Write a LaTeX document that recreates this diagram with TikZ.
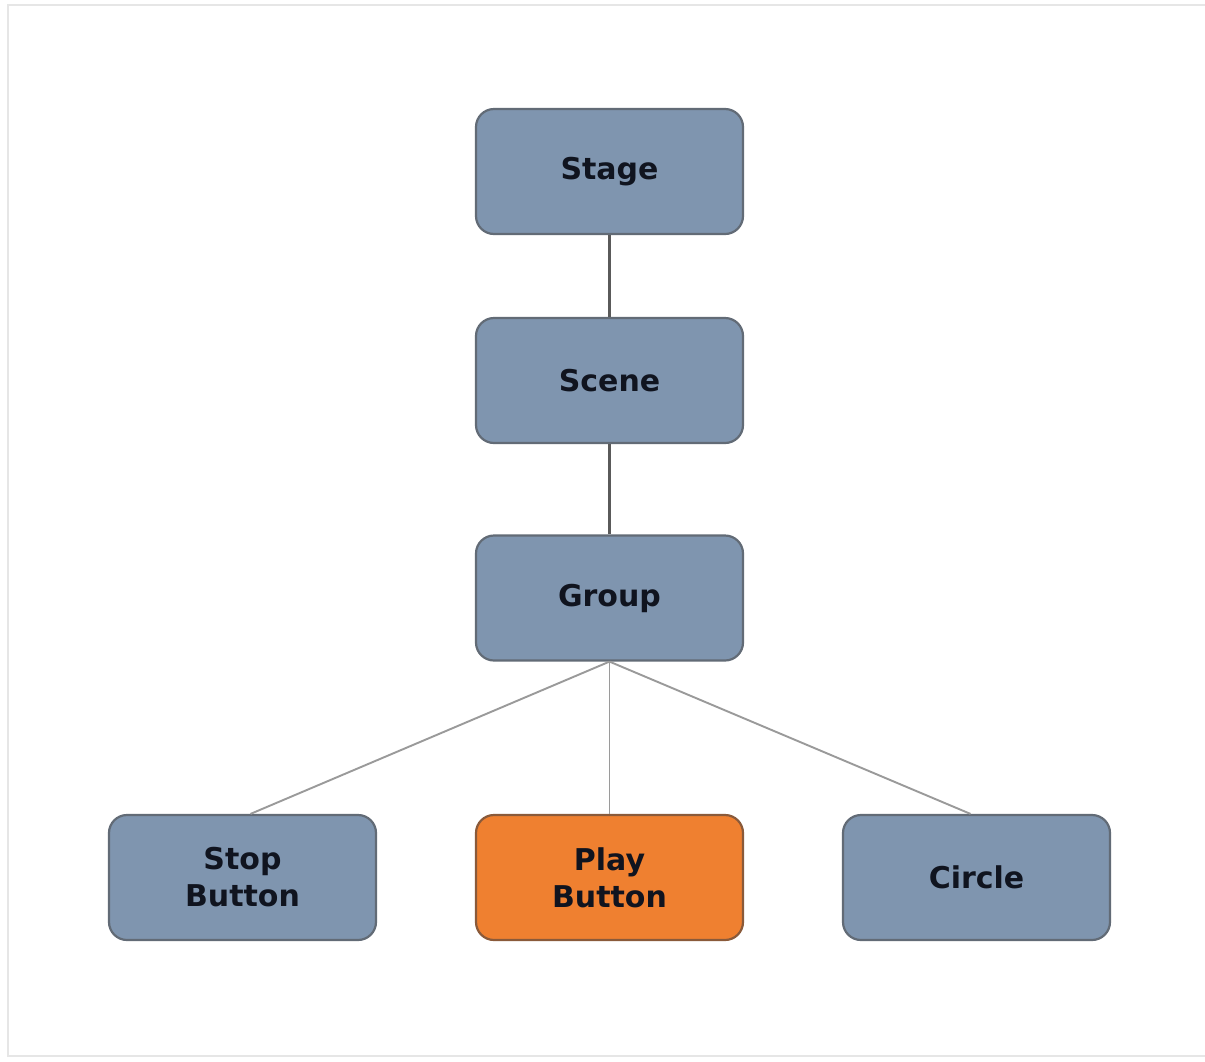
\documentclass[tikz,border=0pt]{standalone}
\usepackage{fontspec}
\setmainfont{DejaVu Sans}
\definecolor{boxfill}{HTML}{7F95AF}
\definecolor{boxline}{HTML}{626B76}
\definecolor{playfill}{HTML}{EF8030}
\definecolor{playline}{HTML}{8A5A3A}
\definecolor{txt}{HTML}{10141F}
\definecolor{frame}{HTML}{E6E6E6}
\definecolor{thick}{HTML}{5A5A5A}
\definecolor{thin}{HTML}{9A9A9A}
\tikzset{
  boxnode/.style={draw=boxline, fill=boxfill, line width=2.2pt, rounded corners=18pt,
    minimum width=267pt, minimum height=125pt, inner sep=0pt, align=center,
    text=txt, font=\fontsize{30}{37}\selectfont\bfseries},
  playnode/.style={boxnode, fill=playfill, draw=playline},
  thickline/.style={draw=thick, line width=3.8pt},
  thinline/.style={draw=thin, line width=1.9pt}
}
\begin{document}
\begin{tikzpicture}[x=1pt,y=-1pt]
\useasboundingbox (0,0) rectangle (1205,1061);
\fill[white] (0,0) rectangle (1205,1061);
\draw[frame, line width=2.5pt] (1210,5) -- (8,5) -- (8,1056) -- (1210,1056);
\node[boxnode] (stage) at (609.5,171.5) {Stage};
\node[boxnode] (scene) at (609.5,380.5) {Scene};
\node[boxnode] (group) at (609.5,598) {Group};
\node[boxnode] (stop) at (242.5,877.5) {Stop\\Button};
\node[playnode] (play) at (609.5,877.5) {Play\\Button};
\node[boxnode] (circle) at (976.5,877.5) {Circle};
\draw[thickline] (stage.south) -- (scene.north);
\draw[thickline] (scene.south) -- (group.north);
\draw[thinline] (group.south) -- ([xshift=8pt]stop.north);
\draw[thinline] (group.south) -- (play.north);
\draw[thinline] (group.south) -- ([xshift=-6pt]circle.north);
\end{tikzpicture}
\end{document}
